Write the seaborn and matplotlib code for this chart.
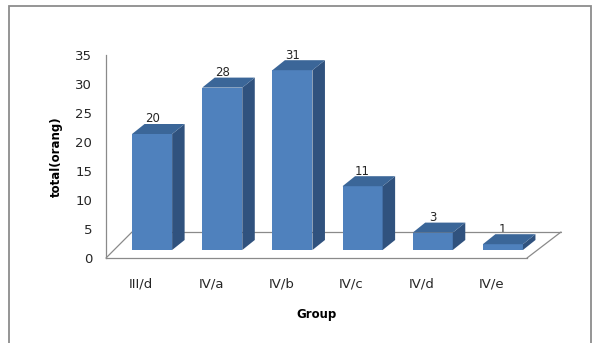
import matplotlib
matplotlib.use("Agg")
import matplotlib.pyplot as plt
from matplotlib.patches import Polygon, Rectangle
from matplotlib.lines import Line2D
import seaborn as sns
import pandas as pd

groups = ["III/d", "IV/a", "IV/b", "IV/c", "IV/d", "IV/e"]
totals = [20, 28, 31, 11, 3, 1]
y_ticks = [0, 5, 10, 15, 20, 25, 30, 35]

sns.set_style("white")
plt.rcParams["font.family"] = ["DejaVu Sans"]

W, H = 596, 343
fig = plt.figure(figsize=(W / 100, H / 100), dpi=100)
ax = fig.add_axes([106 / W, 1 - 258 / H, 421 / W, 203 / H])

df = pd.DataFrame({"Group": groups, "total": totals})
FRONT, TOP, SIDE = "#4F81BD", "#3B6698", "#30527E"
sns.barplot(data=df, x="Group", y="total", color=FRONT, saturation=1,
            width=0.571, ax=ax, zorder=3, linewidth=0)
ax.set_ylim(0, 35)
ax.set_xlim(-0.5, 5.5)
ax.set_yticks(y_ticks)

# bar offset (mid depth of 3D box) and box depth in pixels
OX, OY = 11, 8
DX, DY = 12.5, 10

fig.canvas.draw()
for p in list(ax.patches):
    x0, w, h = p.get_x(), p.get_width(), p.get_height()
    (X0, Y0), (X1, Y1) = ax.transData.transform([(x0, 0), (x0 + w, h)])
    X0 += OX; X1 += OX; Y0 += OY; Y1 += OY
    p.remove()
    front = Polygon([(X0, Y0), (X1, Y0), (X1, Y1), (X0, Y1)], closed=True,
                    facecolor=FRONT, edgecolor="none", transform=None, zorder=3)
    side = Polygon([(X1, Y0), (X1 + DX, Y0 + DY), (X1 + DX, Y1 + DY), (X1, Y1)],
                   closed=True, facecolor=SIDE, edgecolor="none", transform=None, zorder=3)
    top = Polygon([(X0, Y1), (X1, Y1), (X1 + DX, Y1 + DY), (X0 + DX, Y1 + DY)],
                  closed=True, facecolor=TOP, edgecolor="none", transform=None, zorder=3)
    for poly in (front, side, top):
        fig.add_artist(poly)
    ax.annotate(f"{h:g}", xy=(x0 + w / 2, h), xycoords="data",
                xytext=(OX, OY + 15), textcoords="offset pixels",
                ha="center", va="center", fontsize=8.5, color="#262626", zorder=5)

# floor
GRAY = "#8A8A8A"
(AX0, AY0), (AX1, _) = ax.transAxes.transform([(0, 0), (1, 0)])
floor = [
    [(AX0, AY0), (AX0 + 26, AY0 + 26)],
    [(AX0 + 26, AY0 + 26), (AX1 + 34, AY0 + 26)],
    [(AX1, AY0), (AX1 + 34, AY0 + 26)],
]
for seg in floor:
    xs, ys = zip(*seg)
    fig.add_artist(Line2D(xs, ys, color=GRAY, lw=0.9, transform=None, zorder=1))

for s in ["top", "right"]:
    ax.spines[s].set_visible(False)
for s in ["left", "bottom"]:
    ax.spines[s].set_color(GRAY)
    ax.spines[s].set_linewidth(0.9)
ax.patch.set_alpha(0)

ax.tick_params(axis="both", length=0, labelsize=9.5, colors="#262626")
ax.tick_params(axis="x", pad=14)
ax.tick_params(axis="y", pad=10)

ax.set_ylabel("total(orang)", fontsize=8.5, fontweight="bold", color="#000000")
ax.set_xlabel("Group", fontsize=8.5, fontweight="bold", color="#000000")
ax.yaxis.set_label_coords(-0.102, 0.5)
ax.xaxis.set_label_coords(0.5, -0.246)

# outer chart border
fig.patches.append(Rectangle((9 / W, -0.05), (591 - 9) / W, (H - 6) / H + 0.05,
                             transform=fig.transFigure, fill=False,
                             edgecolor="#8C8C8C", lw=1.3, clip_on=False))

fig.savefig("out.png", dpi=100)
